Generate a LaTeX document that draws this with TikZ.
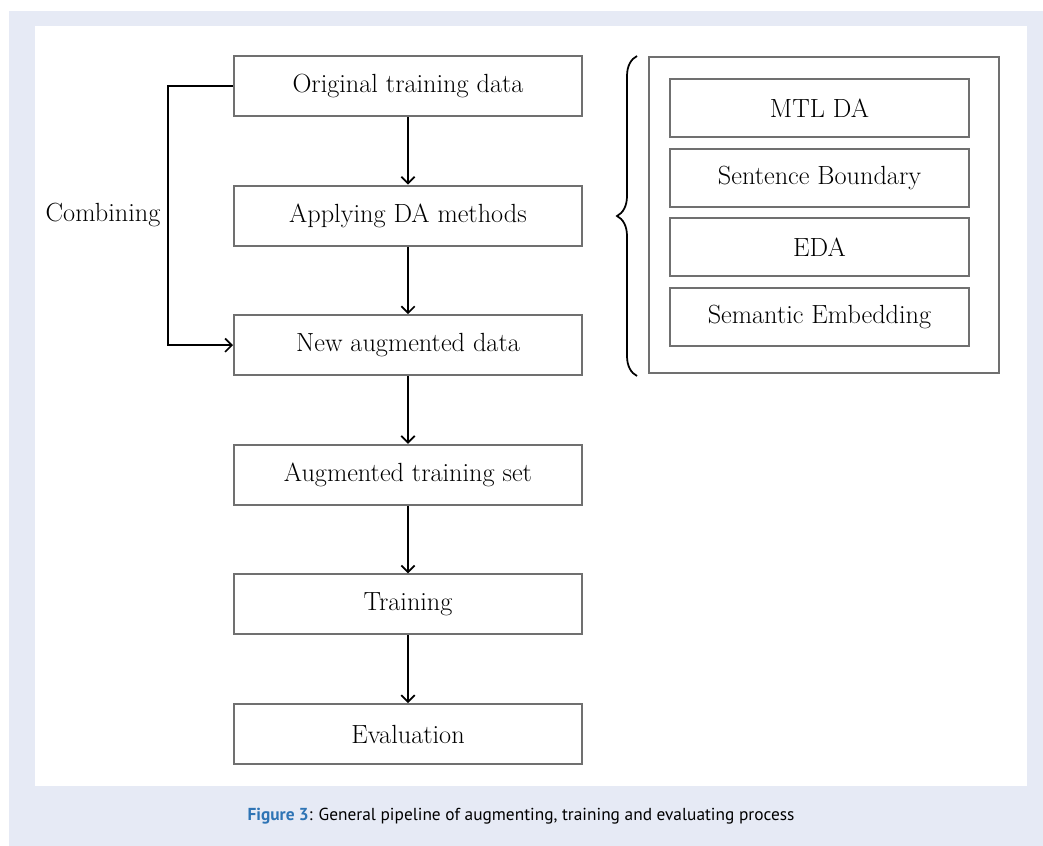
\documentclass[tikz,border=0pt]{standalone}
\usepackage{fontspec}
\newfontfamily\capfont{PT Sans}
\usetikzlibrary{decorations.pathreplacing,arrows.meta}
\definecolor{panelblue}{HTML}{E6EAF5}
\definecolor{boxgray}{HTML}{707070}
\definecolor{figblue}{HTML}{2E74B5}
\tikzset{
  stepbox/.style={draw=boxgray, line width=1.5pt, fill=white, minimum width=261pt, minimum height=45pt, font=\fontsize{19.7}{23}\selectfont},
  methodbox/.style={draw=boxgray, line width=1.5pt, minimum width=224pt, minimum height=43.5pt, font=\fontsize{19.7}{23}\selectfont},
  flow/.style={-{Straight Barb[length=5pt,width=10pt,line width=1.3pt]}, line width=1.3pt, black}
}
\begin{document}
\begin{tikzpicture}[x=0.75pt, y=-0.75pt]
  % Define parameters
  \def\cx{408}   % centre of main column
  \def\gap{129.6} % vertical step between boxes
  \def\mx{819.5} % centre of method column

  % Frame and panel
  \useasboundingbox (0,0) rectangle (1043,846);
  \fill[panelblue] (9,11) rectangle (1043,846);
  \fill[white] (35,26) rectangle (1027,786);

  % Main pipeline
  \node[stepbox] (orig)  at (\cx, 86) {Original training data};
  \node[stepbox] (apply) at (\cx, 86+\gap) {Applying DA methods};
  \node[stepbox] (newaug) at (\cx, 86+2*\gap) {New augmented data};
  \node[stepbox] (augset) at (\cx, 86+3*\gap) {Augmented training set};
  \node[stepbox] (train) at (\cx, 86+4*\gap) {Training};
  \node[stepbox] (eval)  at (\cx, 86+5*\gap) {Evaluation};

  \draw[flow] (orig) -- (apply);
  \draw[flow] (apply) -- (newaug);
  \draw[flow] (newaug) -- (augset);
  \draw[flow] (augset) -- (train);
  \draw[flow] (train) -- (eval);

  % Combining loop
  \draw[flow] (orig.west) -- ++(-65,0) |- (newaug.west);
  \node[font=\fontsize{19.7}{23}\selectfont] (comb) at (103,215) {Combining};

  % DA methods group
  \node[draw=boxgray, line width=1.5pt, minimum width=262.5pt, minimum height=237pt] (group) at (824,215) {};
  \node[methodbox] (mtl)  at (\mx,108) {MTL DA};
  \node[methodbox] (sent) at (\mx,177.5) {Sentence Boundary};
  \node[methodbox] (eda)  at (\mx,247) {EDA};
  \node[methodbox] (sem)  at (\mx,316.5) {Semantic Embedding};

  % Brace
  \coordinate (brb) at (637,376);
  \coordinate (brt) at (637,56);
  \draw[line width=1.3pt, decorate, decoration={brace, amplitude=15pt}] (brb) -- (brt);

  % Caption
  \node[font=\capfont\fontsize{13}{15}\selectfont] (cap) at (521,816)
    {\textcolor{figblue}{\bfseries Figure 3}: General pipeline of augmenting, training and evaluating process};
\end{tikzpicture}
\end{document}
